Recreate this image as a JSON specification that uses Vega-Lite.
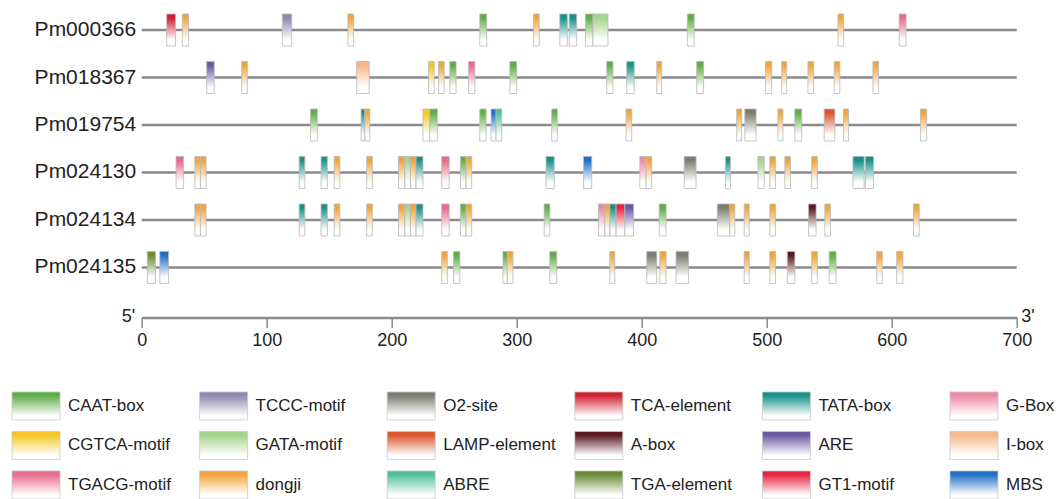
{
  "$schema": "https://vega.github.io/schema/vega-lite/v6.json",
  "width": 875,
  "height": 297.5,
  "autosize": {"type": "none"},
  "padding": {"left": 141.7, "top": 0, "right": 45.3, "bottom": 201.5},
  "background": "white",
  "config": {"view": {"stroke": null}, "font": "Liberation Sans"},
  "datasets": {
    "genes": [
      {"g": "Pm000366", "start": 0, "len": 700},
      {"g": "Pm018367", "start": 0, "len": 700},
      {"g": "Pm019754", "start": 0, "len": 700},
      {"g": "Pm024130", "start": 0, "len": 700},
      {"g": "Pm024134", "start": 0, "len": 700},
      {"g": "Pm024135", "start": 0, "len": 700}
    ],
    "motifs": [
      {"g": "Pm000366", "m": "TCA-element", "s": 20, "e": 27},
      {"g": "Pm000366", "m": "dongji", "s": 32.5, "e": 37.5},
      {"g": "Pm000366", "m": "TCCC-motif", "s": 112.5, "e": 120},
      {"g": "Pm000366", "m": "dongji", "s": 165, "e": 169.5},
      {"g": "Pm000366", "m": "CAAT-box", "s": 270.5, "e": 276},
      {"g": "Pm000366", "m": "dongji", "s": 313.5, "e": 318},
      {"g": "Pm000366", "m": "TATA-box", "s": 334.5, "e": 340.5},
      {"g": "Pm000366", "m": "TATA-box", "s": 342, "e": 348},
      {"g": "Pm000366", "m": "CAAT-box", "s": 355, "e": 361},
      {"g": "Pm000366", "m": "GATA-motif", "s": 361, "e": 373},
      {"g": "Pm000366", "m": "CAAT-box", "s": 436.5, "e": 442},
      {"g": "Pm000366", "m": "dongji", "s": 557, "e": 561.5},
      {"g": "Pm000366", "m": "TGACG-motif", "s": 606, "e": 611.5},
      {"g": "Pm018367", "m": "ARE", "s": 52, "e": 58},
      {"g": "Pm018367", "m": "dongji", "s": 80, "e": 84.5},
      {"g": "Pm018367", "m": "I-box", "s": 172, "e": 182},
      {"g": "Pm018367", "m": "CGTCA-motif", "s": 229.5, "e": 234},
      {"g": "Pm018367", "m": "dongji", "s": 237.5, "e": 242},
      {"g": "Pm018367", "m": "CAAT-box", "s": 246.5, "e": 251.5},
      {"g": "Pm018367", "m": "TGACG-motif", "s": 261.5, "e": 266.5},
      {"g": "Pm018367", "m": "CAAT-box", "s": 294.5, "e": 300},
      {"g": "Pm018367", "m": "CAAT-box", "s": 372, "e": 377},
      {"g": "Pm018367", "m": "TATA-box", "s": 388, "e": 394},
      {"g": "Pm018367", "m": "dongji", "s": 412, "e": 416},
      {"g": "Pm018367", "m": "CAAT-box", "s": 444, "e": 449.5},
      {"g": "Pm018367", "m": "dongji", "s": 499, "e": 504},
      {"g": "Pm018367", "m": "dongji", "s": 512, "e": 516},
      {"g": "Pm018367", "m": "dongji", "s": 533, "e": 537.5},
      {"g": "Pm018367", "m": "dongji", "s": 554, "e": 558.5},
      {"g": "Pm018367", "m": "dongji", "s": 585, "e": 589.5},
      {"g": "Pm019754", "m": "CAAT-box", "s": 135, "e": 140.5},
      {"g": "Pm019754", "m": "TATA-box", "s": 175.5, "e": 178.5},
      {"g": "Pm019754", "m": "dongji", "s": 178.5, "e": 182.5},
      {"g": "Pm019754", "m": "CGTCA-motif", "s": 225, "e": 230.5},
      {"g": "Pm019754", "m": "CAAT-box", "s": 230.5, "e": 236.5},
      {"g": "Pm019754", "m": "CAAT-box", "s": 270.5, "e": 275.5},
      {"g": "Pm019754", "m": "MBS", "s": 279.5, "e": 283.5},
      {"g": "Pm019754", "m": "ABRE", "s": 283.5, "e": 288},
      {"g": "Pm019754", "m": "CAAT-box", "s": 328, "e": 332.5},
      {"g": "Pm019754", "m": "dongji", "s": 387.5, "e": 392},
      {"g": "Pm019754", "m": "dongji", "s": 476, "e": 480},
      {"g": "Pm019754", "m": "O2-site", "s": 482.5, "e": 491.5},
      {"g": "Pm019754", "m": "dongji", "s": 509, "e": 513},
      {"g": "Pm019754", "m": "CAAT-box", "s": 522.5, "e": 528},
      {"g": "Pm019754", "m": "LAMP-element", "s": 546, "e": 554.5},
      {"g": "Pm019754", "m": "dongji", "s": 561.5, "e": 565.5},
      {"g": "Pm019754", "m": "dongji", "s": 623, "e": 628},
      {"g": "Pm024130", "m": "TGACG-motif", "s": 27.5, "e": 33.5},
      {"g": "Pm024130", "m": "dongji", "s": 42.5, "e": 47},
      {"g": "Pm024130", "m": "dongji", "s": 47, "e": 51.5},
      {"g": "Pm024130", "m": "TATA-box", "s": 126, "e": 130.5},
      {"g": "Pm024130", "m": "TATA-box", "s": 143.5, "e": 148.5},
      {"g": "Pm024130", "m": "dongji", "s": 154, "e": 158.5},
      {"g": "Pm024130", "m": "dongji", "s": 180, "e": 184.5},
      {"g": "Pm024130", "m": "dongji", "s": 205.5, "e": 210.5},
      {"g": "Pm024130", "m": "GATA-motif", "s": 210.5, "e": 215},
      {"g": "Pm024130", "m": "dongji", "s": 215, "e": 219.5},
      {"g": "Pm024130", "m": "TATA-box", "s": 219.5, "e": 225},
      {"g": "Pm024130", "m": "TGACG-motif", "s": 240, "e": 246},
      {"g": "Pm024130", "m": "CAAT-box", "s": 255, "e": 259.5},
      {"g": "Pm024130", "m": "dongji", "s": 259.5, "e": 264},
      {"g": "Pm024130", "m": "TATA-box", "s": 323.5, "e": 330},
      {"g": "Pm024130", "m": "MBS", "s": 353.5, "e": 360},
      {"g": "Pm024130", "m": "G-Box", "s": 398.5, "e": 403.5},
      {"g": "Pm024130", "m": "dongji", "s": 403.5, "e": 408},
      {"g": "Pm024130", "m": "O2-site", "s": 434, "e": 443.5},
      {"g": "Pm024130", "m": "TATA-box", "s": 467, "e": 471},
      {"g": "Pm024130", "m": "GATA-motif", "s": 493, "e": 498},
      {"g": "Pm024130", "m": "dongji", "s": 502.5, "e": 507},
      {"g": "Pm024130", "m": "dongji", "s": 514.5, "e": 519},
      {"g": "Pm024130", "m": "dongji", "s": 536, "e": 540.5},
      {"g": "Pm024130", "m": "TATA-box", "s": 569, "e": 578},
      {"g": "Pm024130", "m": "TATA-box", "s": 579, "e": 585.5},
      {"g": "Pm024134", "m": "dongji", "s": 42.5, "e": 47},
      {"g": "Pm024134", "m": "dongji", "s": 47, "e": 51.5},
      {"g": "Pm024134", "m": "TATA-box", "s": 126, "e": 130.5},
      {"g": "Pm024134", "m": "TATA-box", "s": 143.5, "e": 148.5},
      {"g": "Pm024134", "m": "dongji", "s": 154, "e": 158.5},
      {"g": "Pm024134", "m": "dongji", "s": 180, "e": 184.5},
      {"g": "Pm024134", "m": "dongji", "s": 205.5, "e": 210.5},
      {"g": "Pm024134", "m": "GATA-motif", "s": 210.5, "e": 215},
      {"g": "Pm024134", "m": "dongji", "s": 215, "e": 219.5},
      {"g": "Pm024134", "m": "TATA-box", "s": 219.5, "e": 225},
      {"g": "Pm024134", "m": "TGACG-motif", "s": 240, "e": 246},
      {"g": "Pm024134", "m": "CAAT-box", "s": 255, "e": 259.5},
      {"g": "Pm024134", "m": "dongji", "s": 259.5, "e": 264},
      {"g": "Pm024134", "m": "CAAT-box", "s": 322, "e": 326.5},
      {"g": "Pm024134", "m": "G-Box", "s": 365.5, "e": 370.5},
      {"g": "Pm024134", "m": "dongji", "s": 370.5, "e": 374.5},
      {"g": "Pm024134", "m": "TATA-box", "s": 374.5, "e": 379.5},
      {"g": "Pm024134", "m": "GT1-motif", "s": 379.5, "e": 386.5},
      {"g": "Pm024134", "m": "ARE", "s": 386.5, "e": 393.5},
      {"g": "Pm024134", "m": "CAAT-box", "s": 414, "e": 419.5},
      {"g": "Pm024134", "m": "O2-site", "s": 460.5, "e": 470.5},
      {"g": "Pm024134", "m": "dongji", "s": 470.5, "e": 474.5},
      {"g": "Pm024134", "m": "dongji", "s": 482, "e": 486},
      {"g": "Pm024134", "m": "dongji", "s": 502.5, "e": 507},
      {"g": "Pm024134", "m": "A-box", "s": 533.5, "e": 539.5},
      {"g": "Pm024134", "m": "dongji", "s": 546.5, "e": 551},
      {"g": "Pm024134", "m": "dongji", "s": 617.5, "e": 622},
      {"g": "Pm024135", "m": "TGA-element", "s": 4.5, "e": 11},
      {"g": "Pm024135", "m": "MBS", "s": 14.5, "e": 21.5},
      {"g": "Pm024135", "m": "dongji", "s": 240, "e": 244.5},
      {"g": "Pm024135", "m": "CAAT-box", "s": 249.5, "e": 254.5},
      {"g": "Pm024135", "m": "CAAT-box", "s": 289, "e": 292.5},
      {"g": "Pm024135", "m": "dongji", "s": 292.5, "e": 297},
      {"g": "Pm024135", "m": "CAAT-box", "s": 326.5, "e": 332},
      {"g": "Pm024135", "m": "dongji", "s": 374.5, "e": 378.5},
      {"g": "Pm024135", "m": "O2-site", "s": 404, "e": 412},
      {"g": "Pm024135", "m": "dongji", "s": 414.5, "e": 419.5},
      {"g": "Pm024135", "m": "O2-site", "s": 427.5, "e": 437.5},
      {"g": "Pm024135", "m": "dongji", "s": 482, "e": 486},
      {"g": "Pm024135", "m": "dongji", "s": 502.5, "e": 507},
      {"g": "Pm024135", "m": "A-box", "s": 516.5, "e": 522.5},
      {"g": "Pm024135", "m": "dongji", "s": 536, "e": 540.5},
      {"g": "Pm024135", "m": "CAAT-box", "s": 550, "e": 555.5},
      {"g": "Pm024135", "m": "dongji", "s": 588, "e": 592.5},
      {"g": "Pm024135", "m": "dongji", "s": 604, "e": 609}
    ],
    "legend": [
      {"m": "CAAT-box", "col": 0, "row": 0},
      {"m": "TCCC-motif", "col": 1, "row": 0},
      {"m": "O2-site", "col": 2, "row": 0},
      {"m": "TCA-element", "col": 3, "row": 0},
      {"m": "TATA-box", "col": 4, "row": 0},
      {"m": "G-Box", "col": 5, "row": 0},
      {"m": "CGTCA-motif", "col": 0, "row": 1},
      {"m": "GATA-motif", "col": 1, "row": 1},
      {"m": "LAMP-element", "col": 2, "row": 1},
      {"m": "A-box", "col": 3, "row": 1},
      {"m": "ARE", "col": 4, "row": 1},
      {"m": "I-box", "col": 5, "row": 1},
      {"m": "TGACG-motif", "col": 0, "row": 2},
      {"m": "dongji", "col": 1, "row": 2},
      {"m": "ABRE", "col": 2, "row": 2},
      {"m": "TGA-element", "col": 3, "row": 2},
      {"m": "GT1-motif", "col": 4, "row": 2},
      {"m": "MBS", "col": 5, "row": 2}
    ]
  },
  "layer": [
    {
      "layer": [
        {
          "data": {"name": "genes"},
          "mark": {"type": "rule", "color": "#8a8a8a", "strokeWidth": 2.5},
          "encoding": {
            "y": {
              "field": "g", "type": "nominal", "sort": null,
              "scale": {"paddingInner": 0.326, "paddingOuter": 0.295},
              "axis": {
                "title": "5'", "titleAngle": 0, "titleX": -7, "titleY": 321.5,
                "titleAlign": "right", "titleBaseline": "alphabetic",
                "titleFontSize": 18, "titleFontWeight": "normal", "titleColor": "#222222",
                "titleFont": "Liberation Sans",
                "labelFontSize": 21, "labelColor": "#222222", "labelFont": "Liberation Sans",
                "labelPadding": 6, "ticks": false, "domain": false, "grid": false
              }
            },
            "x": {
              "field": "start", "type": "quantitative",
              "scale": {"domain": [0, 700], "nice": false, "zero": false},
              "axis": {
                "values": [0, 100, 200, 300, 400, 500, 600, 700],
                "offset": 20, "grid": false,
                "domainColor": "#8a8a8a", "domainWidth": 2.5,
                "tickColor": "#8a8a8a", "tickWidth": 1.5, "tickSize": 10,
                "labelFontSize": 18, "labelColor": "#222222", "labelFont": "Liberation Sans",
                "labelPadding": 4, "labelFlush": false,
                "title": "3'", "titleX": 879, "titleY": 4,
                "titleAlign": "left", "titleBaseline": "alphabetic",
                "titleFontSize": 18, "titleFontWeight": "normal", "titleColor": "#222222",
                "titleFont": "Liberation Sans"
              }
            },
            "x2": {"field": "len"}
          }
        },
        {
          "data": {"name": "motifs"},
          "mark": {"type": "rect", "stroke": "#b8b8b8", "strokeWidth": 0.8},
          "encoding": {
            "y": {"field": "g", "type": "nominal", "sort": null},
            "x": {"field": "s", "type": "quantitative"},
            "x2": {"field": "e"},
            "fill": {
              "condition": [
                {"test": "datum.m === 'CAAT-box'", "value": {"gradient": "linear", "x1": 0, "y1": 0, "x2": 0, "y2": 1, "stops": [{"offset": 0, "color": "#5fae45"}, {"offset": 0.12, "color": "#5fae45"}, {"offset": 0.8, "color": "#ffffff"}]}},
                {"test": "datum.m === 'TCCC-motif'", "value": {"gradient": "linear", "x1": 0, "y1": 0, "x2": 0, "y2": 1, "stops": [{"offset": 0, "color": "#8d8aad"}, {"offset": 0.12, "color": "#8d8aad"}, {"offset": 0.8, "color": "#ffffff"}]}},
                {"test": "datum.m === 'O2-site'", "value": {"gradient": "linear", "x1": 0, "y1": 0, "x2": 0, "y2": 1, "stops": [{"offset": 0, "color": "#7b7f72"}, {"offset": 0.12, "color": "#7b7f72"}, {"offset": 0.8, "color": "#ffffff"}]}},
                {"test": "datum.m === 'TCA-element'", "value": {"gradient": "linear", "x1": 0, "y1": 0, "x2": 0, "y2": 1, "stops": [{"offset": 0, "color": "#d2202e"}, {"offset": 0.12, "color": "#d2202e"}, {"offset": 0.8, "color": "#ffffff"}]}},
                {"test": "datum.m === 'TATA-box'", "value": {"gradient": "linear", "x1": 0, "y1": 0, "x2": 0, "y2": 1, "stops": [{"offset": 0, "color": "#17928a"}, {"offset": 0.12, "color": "#17928a"}, {"offset": 0.8, "color": "#ffffff"}]}},
                {"test": "datum.m === 'G-Box'", "value": {"gradient": "linear", "x1": 0, "y1": 0, "x2": 0, "y2": 1, "stops": [{"offset": 0, "color": "#ef8aa6"}, {"offset": 0.12, "color": "#ef8aa6"}, {"offset": 0.8, "color": "#ffffff"}]}},
                {"test": "datum.m === 'CGTCA-motif'", "value": {"gradient": "linear", "x1": 0, "y1": 0, "x2": 0, "y2": 1, "stops": [{"offset": 0, "color": "#f6c623"}, {"offset": 0.12, "color": "#f6c623"}, {"offset": 0.8, "color": "#ffffff"}]}},
                {"test": "datum.m === 'GATA-motif'", "value": {"gradient": "linear", "x1": 0, "y1": 0, "x2": 0, "y2": 1, "stops": [{"offset": 0, "color": "#a5d48a"}, {"offset": 0.12, "color": "#a5d48a"}, {"offset": 0.8, "color": "#ffffff"}]}},
                {"test": "datum.m === 'LAMP-element'", "value": {"gradient": "linear", "x1": 0, "y1": 0, "x2": 0, "y2": 1, "stops": [{"offset": 0, "color": "#d9552e"}, {"offset": 0.12, "color": "#d9552e"}, {"offset": 0.8, "color": "#ffffff"}]}},
                {"test": "datum.m === 'A-box'", "value": {"gradient": "linear", "x1": 0, "y1": 0, "x2": 0, "y2": 1, "stops": [{"offset": 0, "color": "#5a1a1e"}, {"offset": 0.12, "color": "#5a1a1e"}, {"offset": 0.8, "color": "#ffffff"}]}},
                {"test": "datum.m === 'ARE'", "value": {"gradient": "linear", "x1": 0, "y1": 0, "x2": 0, "y2": 1, "stops": [{"offset": 0, "color": "#6b58a3"}, {"offset": 0.12, "color": "#6b58a3"}, {"offset": 0.8, "color": "#ffffff"}]}},
                {"test": "datum.m === 'I-box'", "value": {"gradient": "linear", "x1": 0, "y1": 0, "x2": 0, "y2": 1, "stops": [{"offset": 0, "color": "#f7b88a"}, {"offset": 0.12, "color": "#f7b88a"}, {"offset": 0.8, "color": "#ffffff"}]}},
                {"test": "datum.m === 'TGACG-motif'", "value": {"gradient": "linear", "x1": 0, "y1": 0, "x2": 0, "y2": 1, "stops": [{"offset": 0, "color": "#e86a8c"}, {"offset": 0.12, "color": "#e86a8c"}, {"offset": 0.8, "color": "#ffffff"}]}},
                {"test": "datum.m === 'dongji'", "value": {"gradient": "linear", "x1": 0, "y1": 0, "x2": 0, "y2": 1, "stops": [{"offset": 0, "color": "#f1a43a"}, {"offset": 0.12, "color": "#f1a43a"}, {"offset": 0.8, "color": "#ffffff"}]}},
                {"test": "datum.m === 'ABRE'", "value": {"gradient": "linear", "x1": 0, "y1": 0, "x2": 0, "y2": 1, "stops": [{"offset": 0, "color": "#4fbf96"}, {"offset": 0.12, "color": "#4fbf96"}, {"offset": 0.8, "color": "#ffffff"}]}},
                {"test": "datum.m === 'TGA-element'", "value": {"gradient": "linear", "x1": 0, "y1": 0, "x2": 0, "y2": 1, "stops": [{"offset": 0, "color": "#6b8a36"}, {"offset": 0.12, "color": "#6b8a36"}, {"offset": 0.8, "color": "#ffffff"}]}},
                {"test": "datum.m === 'GT1-motif'", "value": {"gradient": "linear", "x1": 0, "y1": 0, "x2": 0, "y2": 1, "stops": [{"offset": 0, "color": "#e8233f"}, {"offset": 0.12, "color": "#e8233f"}, {"offset": 0.8, "color": "#ffffff"}]}},
                {"test": "datum.m === 'MBS'", "value": {"gradient": "linear", "x1": 0, "y1": 0, "x2": 0, "y2": 1, "stops": [{"offset": 0, "color": "#1f6fc8"}, {"offset": 0.12, "color": "#1f6fc8"}, {"offset": 0.8, "color": "#ffffff"}]}}
              ],
              "value": "#dddddd"
            }
          }
        }
      ]
    },
    {
      "data": {"name": "legend"},
      "layer": [
        {
          "mark": {"type": "point", "shape": "M-1,-0.5833H1V0.5833H-1Z", "size": 2304, "filled": true, "opacity": 1, "fillOpacity": 1, "stroke": "#c8c8c8", "strokeWidth": 0.8},
          "encoding": {
            "x": {"field": "col", "type": "quantitative", "scale": {"domain": [0.5634, 5.2276], "nice": false, "zero": false}, "axis": null},
            "y": {"field": "row", "type": "quantitative", "scale": {"domain": [-10.278, -2.746], "nice": false, "zero": false, "reverse": true}, "axis": null},
            "fill": {
              "condition": [
                {"test": "datum.m === 'CAAT-box'", "value": {"gradient": "linear", "x1": 0, "y1": 0, "x2": 0, "y2": 1, "stops": [{"offset": 0, "color": "#5fae45"}, {"offset": 0.12, "color": "#5fae45"}, {"offset": 0.85, "color": "#ffffff"}]}},
                {"test": "datum.m === 'TCCC-motif'", "value": {"gradient": "linear", "x1": 0, "y1": 0, "x2": 0, "y2": 1, "stops": [{"offset": 0, "color": "#8d8aad"}, {"offset": 0.12, "color": "#8d8aad"}, {"offset": 0.85, "color": "#ffffff"}]}},
                {"test": "datum.m === 'O2-site'", "value": {"gradient": "linear", "x1": 0, "y1": 0, "x2": 0, "y2": 1, "stops": [{"offset": 0, "color": "#7b7f72"}, {"offset": 0.12, "color": "#7b7f72"}, {"offset": 0.85, "color": "#ffffff"}]}},
                {"test": "datum.m === 'TCA-element'", "value": {"gradient": "linear", "x1": 0, "y1": 0, "x2": 0, "y2": 1, "stops": [{"offset": 0, "color": "#d2202e"}, {"offset": 0.12, "color": "#d2202e"}, {"offset": 0.85, "color": "#ffffff"}]}},
                {"test": "datum.m === 'TATA-box'", "value": {"gradient": "linear", "x1": 0, "y1": 0, "x2": 0, "y2": 1, "stops": [{"offset": 0, "color": "#17928a"}, {"offset": 0.12, "color": "#17928a"}, {"offset": 0.85, "color": "#ffffff"}]}},
                {"test": "datum.m === 'G-Box'", "value": {"gradient": "linear", "x1": 0, "y1": 0, "x2": 0, "y2": 1, "stops": [{"offset": 0, "color": "#ef8aa6"}, {"offset": 0.12, "color": "#ef8aa6"}, {"offset": 0.85, "color": "#ffffff"}]}},
                {"test": "datum.m === 'CGTCA-motif'", "value": {"gradient": "linear", "x1": 0, "y1": 0, "x2": 0, "y2": 1, "stops": [{"offset": 0, "color": "#f6c623"}, {"offset": 0.12, "color": "#f6c623"}, {"offset": 0.85, "color": "#ffffff"}]}},
                {"test": "datum.m === 'GATA-motif'", "value": {"gradient": "linear", "x1": 0, "y1": 0, "x2": 0, "y2": 1, "stops": [{"offset": 0, "color": "#a5d48a"}, {"offset": 0.12, "color": "#a5d48a"}, {"offset": 0.85, "color": "#ffffff"}]}},
                {"test": "datum.m === 'LAMP-element'", "value": {"gradient": "linear", "x1": 0, "y1": 0, "x2": 0, "y2": 1, "stops": [{"offset": 0, "color": "#d9552e"}, {"offset": 0.12, "color": "#d9552e"}, {"offset": 0.85, "color": "#ffffff"}]}},
                {"test": "datum.m === 'A-box'", "value": {"gradient": "linear", "x1": 0, "y1": 0, "x2": 0, "y2": 1, "stops": [{"offset": 0, "color": "#5a1a1e"}, {"offset": 0.12, "color": "#5a1a1e"}, {"offset": 0.85, "color": "#ffffff"}]}},
                {"test": "datum.m === 'ARE'", "value": {"gradient": "linear", "x1": 0, "y1": 0, "x2": 0, "y2": 1, "stops": [{"offset": 0, "color": "#6b58a3"}, {"offset": 0.12, "color": "#6b58a3"}, {"offset": 0.85, "color": "#ffffff"}]}},
                {"test": "datum.m === 'I-box'", "value": {"gradient": "linear", "x1": 0, "y1": 0, "x2": 0, "y2": 1, "stops": [{"offset": 0, "color": "#f7b88a"}, {"offset": 0.12, "color": "#f7b88a"}, {"offset": 0.85, "color": "#ffffff"}]}},
                {"test": "datum.m === 'TGACG-motif'", "value": {"gradient": "linear", "x1": 0, "y1": 0, "x2": 0, "y2": 1, "stops": [{"offset": 0, "color": "#e86a8c"}, {"offset": 0.12, "color": "#e86a8c"}, {"offset": 0.85, "color": "#ffffff"}]}},
                {"test": "datum.m === 'dongji'", "value": {"gradient": "linear", "x1": 0, "y1": 0, "x2": 0, "y2": 1, "stops": [{"offset": 0, "color": "#f1a43a"}, {"offset": 0.12, "color": "#f1a43a"}, {"offset": 0.85, "color": "#ffffff"}]}},
                {"test": "datum.m === 'ABRE'", "value": {"gradient": "linear", "x1": 0, "y1": 0, "x2": 0, "y2": 1, "stops": [{"offset": 0, "color": "#4fbf96"}, {"offset": 0.12, "color": "#4fbf96"}, {"offset": 0.85, "color": "#ffffff"}]}},
                {"test": "datum.m === 'TGA-element'", "value": {"gradient": "linear", "x1": 0, "y1": 0, "x2": 0, "y2": 1, "stops": [{"offset": 0, "color": "#6b8a36"}, {"offset": 0.12, "color": "#6b8a36"}, {"offset": 0.85, "color": "#ffffff"}]}},
                {"test": "datum.m === 'GT1-motif'", "value": {"gradient": "linear", "x1": 0, "y1": 0, "x2": 0, "y2": 1, "stops": [{"offset": 0, "color": "#e8233f"}, {"offset": 0.12, "color": "#e8233f"}, {"offset": 0.85, "color": "#ffffff"}]}},
                {"test": "datum.m === 'MBS'", "value": {"gradient": "linear", "x1": 0, "y1": 0, "x2": 0, "y2": 1, "stops": [{"offset": 0, "color": "#1f6fc8"}, {"offset": 0.12, "color": "#1f6fc8"}, {"offset": 0.85, "color": "#ffffff"}]}}
              ],
              "value": "#dddddd"
            }
          }
        },
        {
          "mark": {"type": "text", "align": "left", "baseline": "middle", "dx": 32, "fontSize": 17, "font": "Liberation Sans", "color": "#222222"},
          "encoding": {
            "x": {"field": "col", "type": "quantitative"},
            "y": {"field": "row", "type": "quantitative"},
            "text": {"field": "m"}
          }
        }
      ]
    }
  ],
  "resolve": {"scale": {"x": "independent", "y": "independent"}}
}
